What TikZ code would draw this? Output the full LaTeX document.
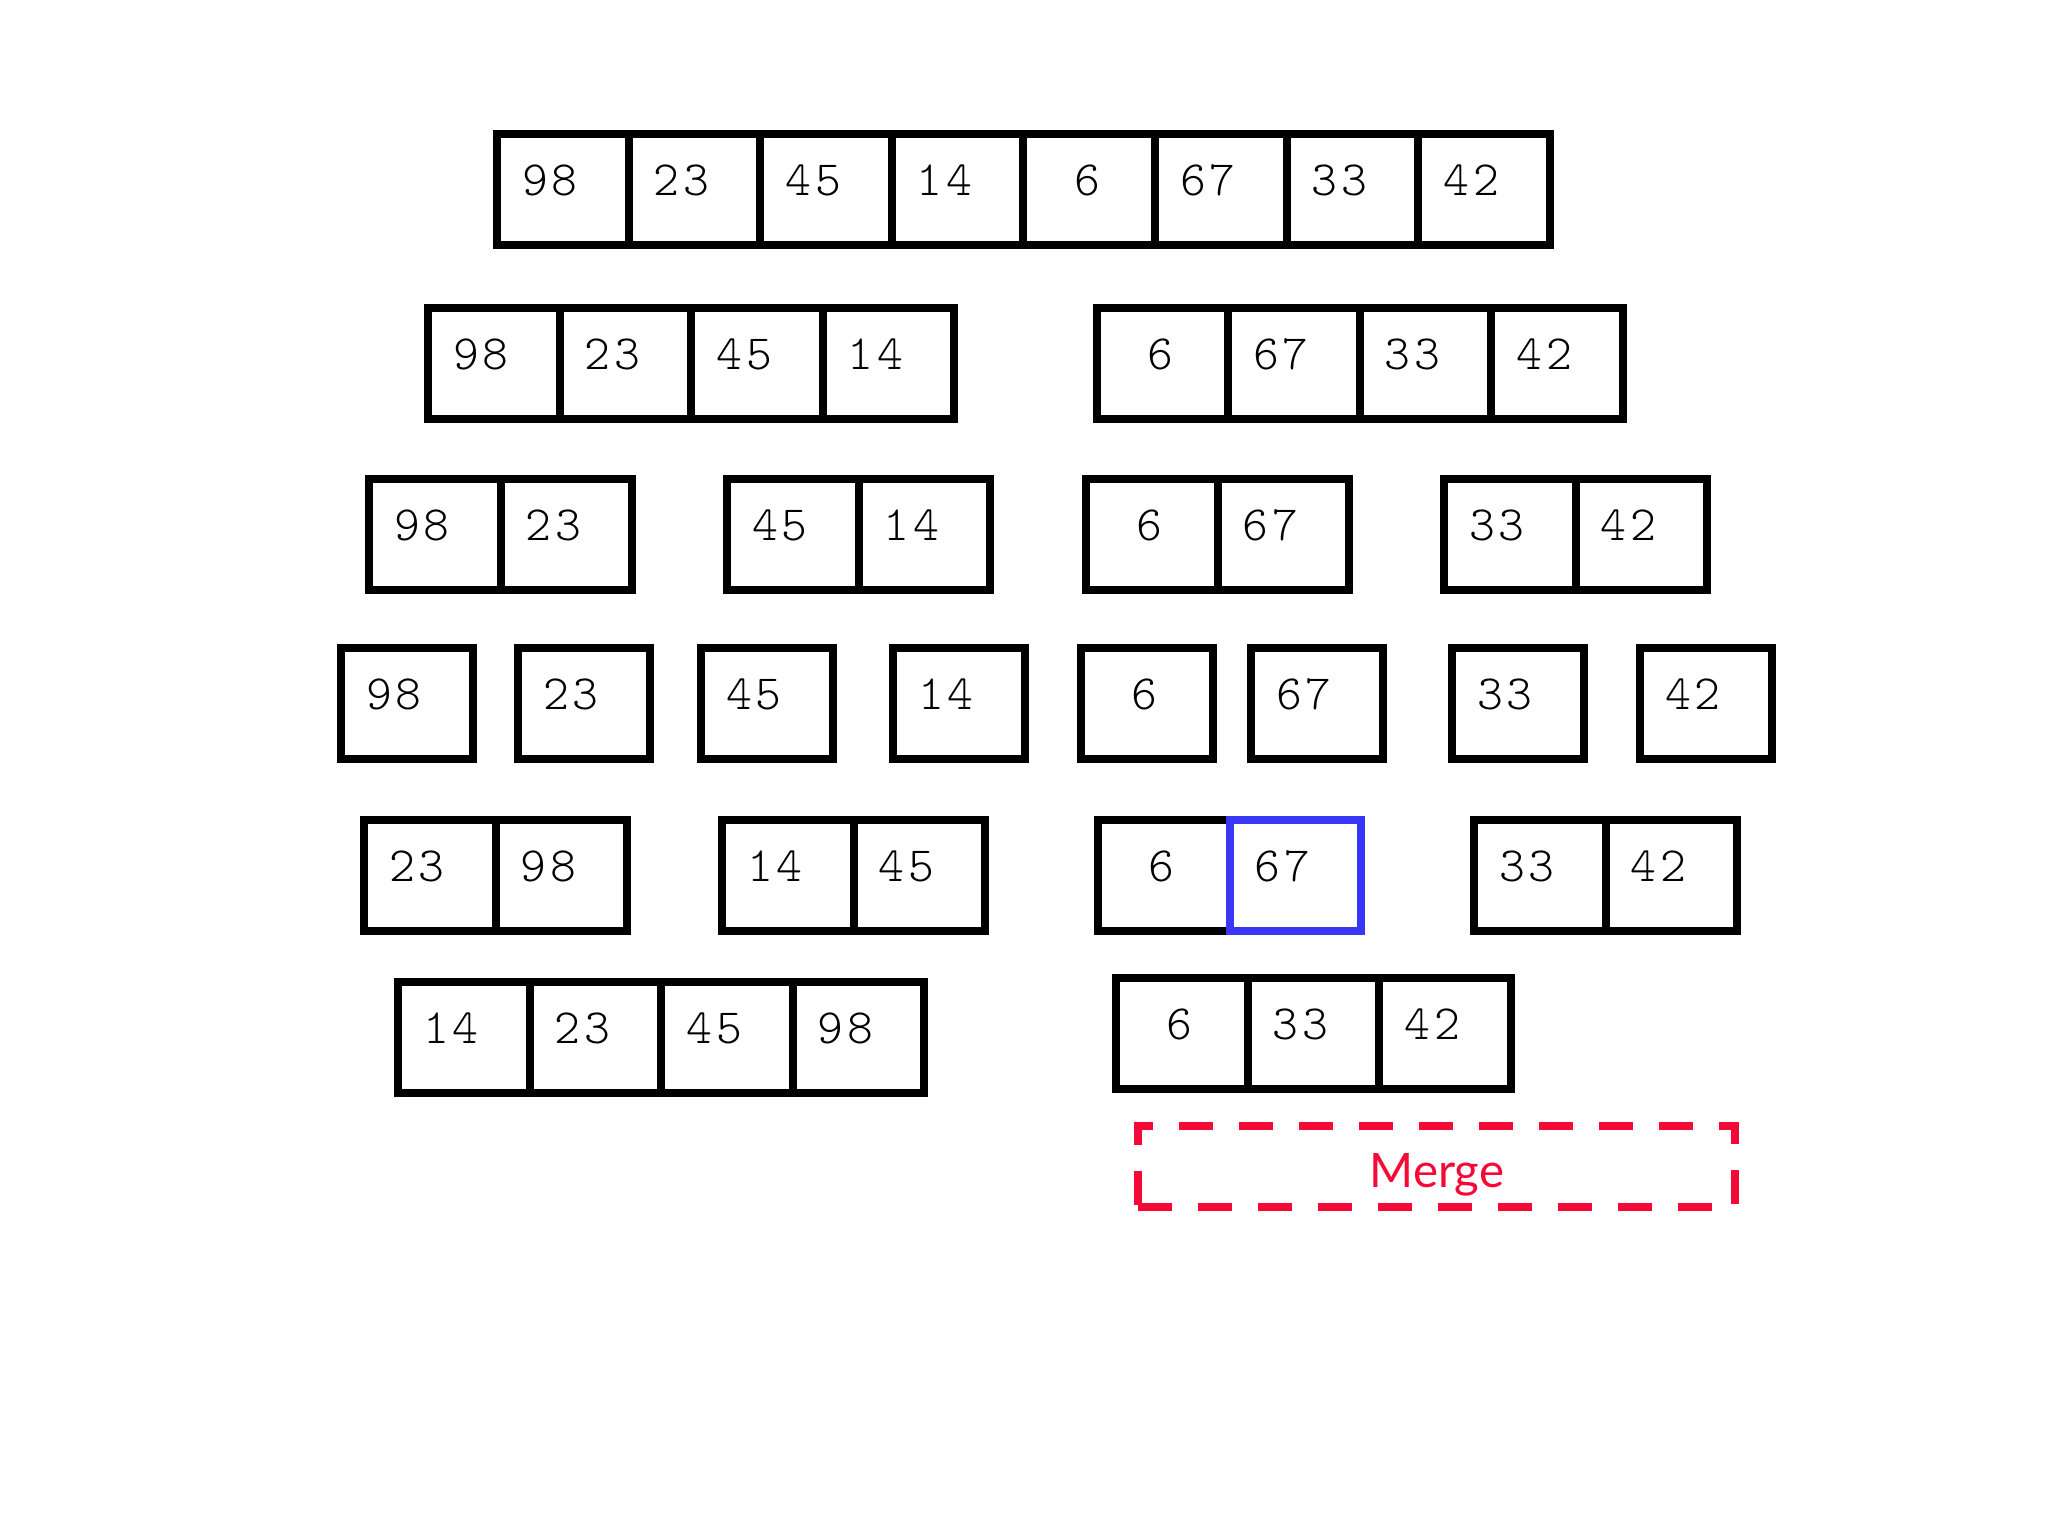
\documentclass[tikz,border=0pt]{standalone}
\usepackage{fontspec}
\newfontfamily\latofont{Lato}
\newfontfamily\numfont[LetterSpace=8.2]{Latin Modern Mono Light}
\definecolor{mergered}{RGB}{245,10,55}
\definecolor{cellblue}{RGB}{55,55,245}
\tikzset{
  cellbox/.style={draw=black, line width=0.08cm, minimum height=1.11cm, minimum width=1.316cm, inner sep=0pt, outer sep=0pt, anchor=north west},
  numtext/.style={font=\numfont\fontsize{14}{17}\selectfont, anchor=base west, inner sep=0pt, outer sep=0pt},
  mergebox/.style={draw=mergered, line width=0.075cm, dash pattern=on 0.34cm off 0.26cm, inner sep=0pt, outer sep=0pt},
  mergetext/.style={text=mergered, font=\latofont\fontsize{13.5}{16}\selectfont, anchor=base, inner sep=0pt},
}
\newcommand\cellrow[5]{%
  \foreach \v [count=\i] in {#5} {
    \node[cellbox, minimum width={#4*0.01cm}] (#1c\i) at ({#2+(\i-1)*#4},#3) {};
    \node[numtext] (#1t\i) at ([shift={(25,61)}]#1c\i.north west) {\v};
  }%
}
\begin{document}
\begin{tikzpicture}[x=0.01cm, y=-0.01cm]
\useasboundingbox (0,0) rectangle (2048,1536);
% row 1
\cellrow{a}{497}{134}{131.6}{98,23,45,14,{\phantom{0}6},67,33,42}
% row 2
\cellrow{ba}{428}{308}{131.6}{98,23,45,14}
\cellrow{bb}{1096.5}{308}{131.6}{{\phantom{0}6},67,33,42}
% row 3
\cellrow{ca}{369}{479}{131.6}{98,23}
\cellrow{cb}{727}{479}{131.6}{45,14}
\cellrow{cc}{1086}{479}{131.6}{{\phantom{0}6},67}
\cellrow{cd}{1444}{479}{131.6}{33,42}
% row 4
\cellrow{da}{341}{648}{132}{98}
\cellrow{db}{518}{648}{132}{23}
\cellrow{dc}{701}{648}{132}{45}
\cellrow{dd}{893}{648}{132}{14}
\cellrow{de}{1081}{648}{132}{{\phantom{0}6}}
\cellrow{df}{1251}{648}{132}{67}
\cellrow{dg}{1452}{648}{132}{33}
\cellrow{dh}{1640}{648}{132}{42}
% row 5
\cellrow{ea}{364}{820}{131.6}{23,98}
\cellrow{eb}{722}{820}{131.6}{14,45}
\cellrow{ec}{1098}{820}{131.6}{{\phantom{0}6},67}
\cellrow{ed}{1474}{820}{131.6}{33,42}
\node[cellbox, draw=cellblue] (blue67) at (1229.6,820) {};
% row 6
\cellrow{fa}{398}{982}{131.6}{14,23,45,98}
\cellrow{fb}{1116}{978}{131.6}{{\phantom{0}6},33,42}
% merge
\node[mergebox, minimum width=5.97cm, minimum height=0.81cm] (merge) at (1436.5,1166.5) {};
\node[mergetext] (mergelabel) at (1437,1187) {Merge};
\end{tikzpicture}
\end{document}
